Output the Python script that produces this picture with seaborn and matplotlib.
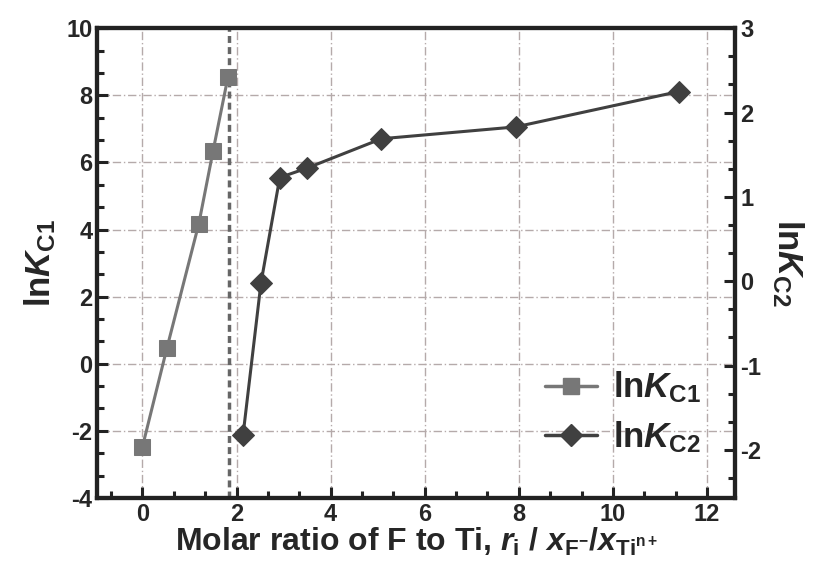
import numpy as np
import pandas as pd
import matplotlib
matplotlib.use("Agg")
import matplotlib.pyplot as plt
from matplotlib.ticker import MultipleLocator, AutoMinorLocator
from matplotlib.lines import Line2D
import seaborn as sns

# lnKc1 (left axis) and lnKc2 (right axis) vs molar ratio
x_c1 = [0.0, 0.52, 1.2, 1.5, 1.82]
y_c1 = [-2.48, 0.46, 4.18, 6.33, 8.56]
x_c2 = [2.14, 2.52, 2.92, 3.49, 5.08, 7.93, 11.4]
y_c2 = [-1.82, -0.02, 1.23, 1.34, 1.69, 1.83, 2.25]
r_crit = 1.84

c1_col = "#777777"
c2_col = "#404040"

sns.set_style("ticks")
plt.rcParams["font.family"] = ["Liberation Sans", "DejaVu Sans"]
plt.rcParams["font.weight"] = "bold"
plt.rcParams["axes.unicode_minus"] = False
plt.rcParams["mathtext.fontset"] = "custom"
plt.rcParams["mathtext.rm"] = "Liberation Sans:bold"
plt.rcParams["mathtext.it"] = "Liberation Sans:italic:bold"
plt.rcParams["mathtext.bf"] = "Liberation Sans:bold"

df1 = pd.DataFrame({"r": x_c1, "lnK": y_c1})
df2 = pd.DataFrame({"r": x_c2, "lnK": y_c2})

fig = plt.figure(figsize=(8.17, 5.77), dpi=100)
ax = fig.add_axes([0.119, 0.137, 0.781, 0.814])
ax2 = ax.twinx()

grid_kw = dict(color="#b5aaaa", lw=1.0, ls=(0, (6, 2, 1, 2)), zorder=0)
for gx in range(0, 13, 2):
    ax.axvline(gx, **grid_kw)
for gy in range(-2, 10, 2):
    ax.axhline(gy, **grid_kw)

ax.axvline(r_crit, color="#666666", lw=2.5, ls=(0, (2, 1.2)), zorder=2)

sns.lineplot(data=df1, x="r", y="lnK", ax=ax, color=c1_col, lw=2.2,
             marker="s", markersize=11, markeredgecolor=c1_col, zorder=3)
sns.lineplot(data=df2, x="r", y="lnK", ax=ax2, color=c2_col, lw=2.2,
             marker="D", markersize=11, markeredgecolor=c2_col, zorder=3)

ax.set_xlim(-0.96, 12.6)
ax.set_ylim(-4, 10)
ax2.set_ylim(-2.57, 3)

ax.xaxis.set_major_locator(MultipleLocator(2))
ax.yaxis.set_major_locator(MultipleLocator(2))
ax2.yaxis.set_major_locator(MultipleLocator(1))
ax.xaxis.set_minor_locator(AutoMinorLocator(3))
ax.yaxis.set_minor_locator(AutoMinorLocator(3))
ax2.yaxis.set_minor_locator(AutoMinorLocator(3))

for a in (ax, ax2):
    a.tick_params(which="both", direction="in", width=2.2, labelsize=17, color="#222222")
    a.tick_params(which="major", length=8)
    a.tick_params(which="minor", length=5)
    for s in a.spines.values():
        s.set_linewidth(3)
        s.set_color("#222222")
ax.tick_params(axis="both", which="both", top=False)
ax2.tick_params(axis="y", which="both", left=False)
ax.set_xticklabels([str(int(t)) for t in ax.get_xticks()])

ax.set_xlabel(r"Molar ratio of F to Ti, $r_\mathrm{i}$ / $x_{\mathrm{F}^{\mathrm{-}}}$/$x_{\mathrm{Ti}^{\mathrm{n+}}}$",
              fontsize=23, fontweight="bold", labelpad=0)
ax.set_ylabel(r"ln$K_{\mathrm{C1}}$", fontsize=25, fontweight="bold", labelpad=6)
ax2.set_ylabel(r"ln$K_{\mathrm{C2}}$", fontsize=25, fontweight="bold", rotation=-90, labelpad=32)

handles = [
    Line2D([], [], color=c1_col, lw=2.5, marker="s", markersize=11),
    Line2D([], [], color=c2_col, lw=2.5, marker="D", markersize=11),
]
ax2.legend(handles, [r"ln$K_{\mathrm{C1}}$", r"ln$K_{\mathrm{C2}}$"],
           loc="lower right", bbox_to_anchor=(0.995, 0.025), frameon=False,
           fontsize=25, handlelength=1.5, labelspacing=0.4, handletextpad=0.45)

fig.savefig("out.png", dpi=100)
